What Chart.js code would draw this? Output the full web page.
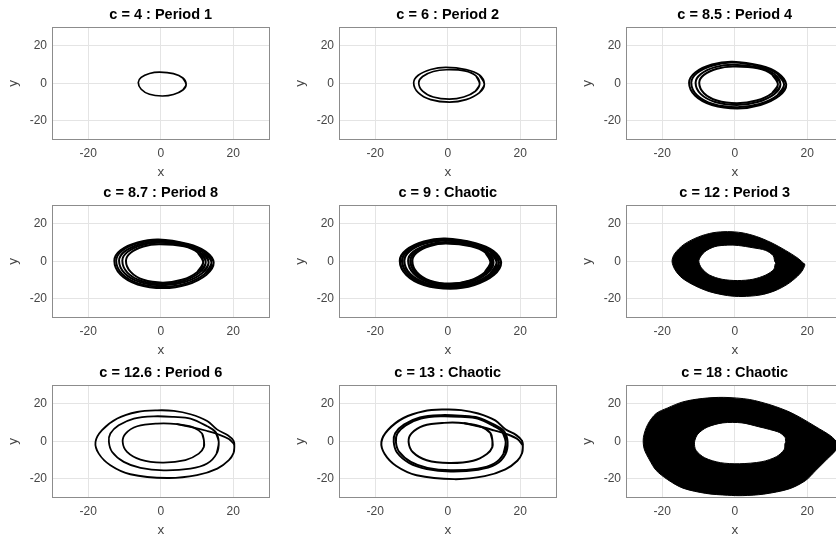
<!DOCTYPE html>
<html><head><meta charset="utf-8">
<script src="https://cdn.jsdelivr.net/npm/chart.js@4.4.1/dist/chart.umd.min.js"></script>
<style>
html,body{margin:0;padding:0;background:#fff;overflow:hidden;width:836px;height:540px;position:relative;}
canvas{position:absolute;}
</style></head><body>
<script>
// ---------------- data ----------------
const titles = ['c = 4 : Period 1','c = 6 : Period 2','c = 8.5 : Period 4',
                'c = 8.7 : Period 8','c = 9 : Chaotic','c = 12 : Period 3',
                'c = 12.6 : Period 6','c = 13 : Chaotic','c = 18 : Chaotic'];
const xTicks = [-20, 0, 20];
const yTicks = [-20, 0, 20];
const xRange = [-30, 30];
const yRange = [-30, 30];

// c = 4
const c4Loop = [[7,-0.6],[6.1,2.8],[3.5,5.1],[-0.3,5.9],[-3.1,5.2],[-5.4,3.1],[-6.2,0.4],[-5.4,-3.2],[-3.1,-5.9],[0.4,-6.8],[3.5,-6],[6.1,-3.6]];
// c = 6
const c6Outer = [[10.1,-0.5],[8.75,4.4],[5.05,7.3],[-0.5,8.5],[-4.7,7.36],[-8.14,4.25],[-9.4,0.3],[-8.14,-5.05],[-4.7,-8.75],[0.5,-10.1],[5.05,-8.75],[8.75,-5.05]];
const c6Inner = [[8.8,-0.4],[7.8,3.9],[4.7,6.6],[-0.4,7.2],[-4,6.24],[-6.93,3.6],[-8,0.3],[-6.93,-4.25],[-4,-7.36],[0.44,-8.5],[4.4,-7.36],[7.62,-4.25]];
// c = 8.5
const c85A = [[14.2,-0.7],[12,5.3],[7.2,9.3],[-0.6,11.5],[-6.3,10],[-10.9,5.75],[-12.6,0.3],[-10.9,-6.7],[-6.3,-11.6],[0.7,-13.4],[7.1,-11.6],[12.3,-6.7]];
const c85B = [[13.6,-0.6],[11.7,5.1],[7,8.9],[-0.6,11],[-6,9.5],[-10.4,5.5],[-12,0.3],[-10.4,-6.4],[-6,-11.1],[0.7,-12.8],[6.8,-11.1],[11.8,-6.4]];
const c85C = [[12.6,-0.6],[10.9,4.9],[6.6,8.4],[-0.5,9.9],[-5.4,8.6],[-9.35,4.95],[-10.8,0.3],[-9.35,-5.8],[-5.4,-10],[0.6,-11.6],[6.3,-10],[10.9,-5.8]];
const c85D = [[11.9,-0.5],[10.3,4.7],[6.3,8],[-0.5,8.9],[-4.9,7.7],[-8.5,4.45],[-9.8,0.3],[-8.5,-5.3],[-4.9,-9.2],[0.6,-10.6],[5.95,-9.2],[10.3,-5.3]];
// c = 8.7
const c87A = [[14.6,-0.7],[12.4,5.2],[7.5,9.2],[-0.6,11.6],[-6.4,10],[-11.1,5.8],[-12.8,0.3],[-11.1,-7.15],[-6.4,-12.4],[0.7,-14.3],[7.3,-12.4],[12.6,-7.15]];
const c87B = [[14,-0.7],[12,5],[7.3,8.9],[-0.6,11.2],[-6.15,9.7],[-10.65,5.6],[-12.3,0.3],[-10.65,-6.8],[-6.15,-11.8],[0.7,-13.6],[7,-11.8],[12.1,-6.8]];
const c87C = [[13.2,-0.6],[11.4,4.9],[7,8.6],[-0.6,10.5],[-5.75,9.1],[-9.95,5.25],[-11.5,0.3],[-9.95,-6.4],[-5.75,-11.1],[0.7,-12.8],[6.6,-11.1],[11.4,-6.4]];
const c87D = [[12.4,-0.6],[10.8,4.8],[6.7,8.3],[-0.5,9.8],[-5.3,8.5],[-9.2,4.9],[-10.6,0.3],[-9.2,-6.05],[-5.3,-10.5],[0.6,-12.1],[6.2,-10.5],[10.7,-6.05]];
const c87E = [[11.7,-0.6],[10.2,4.7],[6.4,8],[-0.5,9.1],[-4.8,7.9],[-8.3,4.55],[-9.6,0.3],[-8.3,-5.7],[-4.8,-9.9],[0.6,-11.4],[5.85,-9.9],[10.1,-5.7]];
// c = 9
const c9A = [[14.7,-0.7],[12.6,5.4],[7.7,9.6],[-0.7,12.1],[-6.6,10.5],[-11.4,6.05],[-13.2,0.3],[-11.4,-7.3],[-6.6,-12.6],[0.7,-14.6],[7.35,-12.6],[12.7,-7.3]];
const c9B = [[14.1,-0.7],[12.2,5.3],[7.4,9.3],[-0.6,11.6],[-6.3,10],[-10.9,5.8],[-12.6,0.3],[-10.9,-7],[-6.3,-12.1],[0.7,-14],[7.05,-12.1],[12.2,-7]];
const c9C = [[13.5,-0.7],[11.7,5.1],[7.1,9],[-0.6,11.1],[-6,9.6],[-10.4,5.55],[-12,0.3],[-10.4,-6.7],[-6,-11.6],[0.7,-13.4],[6.75,-11.6],[11.7,-6.7]];
const c9D = [[12.6,-0.6],[11,4.9],[6.8,8.5],[-0.5,10.2],[-5.45,8.8],[-9.45,5.1],[-10.9,0.3],[-9.45,-6.35],[-5.45,-11],[0.6,-12.7],[6.3,-11],[10.9,-6.35]];
const c9E = [[12.2,-0.6],[10.7,4.8],[6.6,8.3],[-0.5,9.8],[-5.15,8.5],[-8.9,4.9],[-10.3,0.3],[-8.9,-6.15],[-5.15,-10.65],[0.6,-12.3],[6.1,-10.65],[10.6,-6.15]];
const c9F = [[11.8,-0.6],[10.4,4.7],[6.4,8.1],[-0.5,9.5],[-4.9,8.2],[-8.5,4.75],[-9.8,0.3],[-8.5,-6],[-4.9,-10.4],[0.6,-12],[5.9,-10.4],[10.2,-6]];
// c = 12 (dense band: outer edge counter-clockwise, hole edge clockwise)
const c12Outer = [[19.2,-1.5],[17.5,1.5],[14,5.8],[10,10],[6,13.2],[2,15.2],[-2,15.8],[-6,15.2],[-10,13],[-14,9],[-16.6,4],[-17.3,0],[-16.5,-4.5],[-14.5,-9],[-11,-13],[-7,-16.2],[-2,-18.3],[2,-18.8],[7,-18],[11,-15.8],[14.5,-12.3],[17.3,-8],[18.8,-4.5]];
const c12Hole = [[11.4,-1],[10.8,-4.3],[8.6,-7.3],[5,-9.6],[0.8,-10.3],[-3.5,-9.6],[-7,-7.3],[-9.2,-3.5],[-9.9,0.5],[-8.3,5],[-5.5,7.8],[-2,8.6],[1,8.4],[5,7.2],[8.5,5.8],[10.6,3]];
// c = 12.6
const c126Outer = [[20.3,-3],[20.1,0.2],[18.5,3.2],[15.6,6.2],[12.8,10.8],[8.2,14.4],[3.6,16.2],[-1,16.5],[-6.5,15.6],[-12,12.1],[-16.2,5.9],[-18,-0.4],[-17.1,-6.6],[-13.9,-12.8],[-8.4,-17.6],[1.8,-19.6],[10,-18.1],[15.6,-14.6],[18.8,-10.1],[20.1,-6.2]];
const c126Middle = [[16,-0.4],[15.1,5.0],[12.8,8.0],[8.2,12.1],[3.6,13.0],[-1.9,13.3],[-7.4,12.1],[-11.6,8.5],[-13.9,4.1],[-14.3,-0.4],[-13.4,-5.7],[-10.2,-11],[-5.6,-14.2],[0.8,-15.5],[8.2,-14.6],[12.8,-11.9],[15.4,-6.6]];
const c126Inner = [[11.9,0.5],[11.4,4.1],[9.1,7.3],[4.5,9.1],[-1,9.4],[-6.5,8],[-9.7,4.1],[-10.5,-0.4],[-9.3,-5.7],[-5.6,-9.8],[0.4,-11.4],[6.8,-10.1],[10.5,-6.6],[11.9,-3]];
const c126Fold = [[4.5,9.1],[9.1,7.3],[12.6,5.6],[16,3.6],[18.8,1.2],[20.2,-1.5]];
// c = 13
const c13Outer = [[20.7,-3],[20.5,0.2],[18.9,3.3],[15.9,6.4],[13.1,11.1],[8.4,14.8],[3.7,16.6],[-1,16.9],[-6.6,16],[-12.2,12.4],[-16.5,6],[-18.3,-0.4],[-17.4,-6.8],[-14.2,-13.2],[-8.6,-18.1],[1.8,-20.2],[10.2,-18.6],[15.9,-15],[19.2,-10.4],[20.5,-6.4]];
const c13MiddleA = [[16,-0.4],[15.1,5.0],[12.8,8.0],[8.2,12.1],[3.6,13.0],[-1.9,13.3],[-7.4,12.1],[-11.6,8.5],[-13.9,4.1],[-14.3,-0.4],[-13.4,-5.7],[-10.2,-11],[-5.6,-14.2],[0.8,-15.5],[8.2,-14.6],[12.8,-11.9],[15.4,-6.6]];
const c13MiddleB = [[16.5,-0.4],[15.6,5.2],[13.2,8.4],[8.4,12.6],[3.6,13.6],[-1.9,13.9],[-7.7,12.7],[-12.1,8.9],[-14.5,4.3],[-14.9,-0.4],[-14,-6],[-10.7,-11.5],[-5.8,-14.8],[0.8,-16.1],[8.4,-15.2],[13.2,-12.4],[15.9,-6.9]];
const c13Inner = [[12.3,0.5],[11.8,4.3],[9.4,7.6],[4.6,9.6],[-1,9.8],[-6.7,8.3],[-10,4.2],[-10.8,-0.4],[-9.6,-5.9],[-5.8,-10.1],[0.4,-11.6],[7,-10.4],[10.8,-6.8],[12.3,-3.1]];
const c13Fold = [[4.6,9.6],[9.4,7.6],[12.8,5.8],[16.3,3.8],[19.2,1.2],[20.6,-1.8]];
// c = 18 (dense band)
const c18Outer = [[28.6,-1.2],[26.5,2.8],[22.4,7.7],[18.5,12.2],[15,15.7],[10,19.3],[4,22.3],[-3,23.4],[-9,22.8],[-14.3,21],[-18.5,17.8],[-21.7,14.8],[-24,9],[-25.2,2],[-25,-4],[-23.5,-10],[-21.7,-15.5],[-18.5,-20.5],[-14.3,-25],[-8,-27.8],[-2,-28.8],[2.2,-29],[8,-28.2],[15,-25.4],[19.5,-21],[22.4,-15.5],[25.5,-9.5],[27.8,-5]];
const c18Hole = [[14.2,-0.4],[13.6,-4.5],[11.5,-8.2],[7.5,-10.9],[1.3,-12],[-4,-11.4],[-8.3,-8.8],[-10.7,-4.8],[-11.1,-0.5],[-10.2,3.8],[-7.6,7.5],[-3.3,9.8],[2,9.8],[6.5,7.8],[9.6,6.3],[12.4,4.6],[13.9,2]];
const c18GapLeft = [[-10.6,6.8],[-12,3],[-12.5,-1],[-12.1,-5],[-11,-8.2]];
const c18GapRight = [[14.7,4.8],[15.3,1.5],[15.3,-1.8],[14.8,-4.6]];

// ---------------- drawing ----------------
const FONT = "'Liberation Sans', Arial, Helvetica, sans-serif";
const colLefts = [52, 339, 626];
const rowTops = [27, 205, 385];
const BOX_W = 217.5, BOX_H = 112.5;
const CV_W = 290, CV_H = 185, LEFT_M = 52, TOP_M = 27;

const toXY = arr => arr.map(p => ({x: p[0], y: p[1]}));
function loopDs(pts, w, t) {
  const n = pts.length;
  const path = [pts[n - 1], ...pts, pts[0], pts[1]];
  return {data: toXY(path), borderColor: '#000', borderWidth: w, fill: false, tension: t || 0.35};
}
function openDs(pts, w, color) {
  return {data: toXY(pts), borderColor: color || '#000', borderWidth: w, fill: false, tension: 0.35};
}
function ringDs(outer, hole) {
  const path = [...outer, outer[0], ...hole, hole[0], outer[0]];
  return {data: toXY(path), borderColor: '#000', borderWidth: 1, backgroundColor: '#000', fill: 'shape', tension: 0.3};
}

const boxPlugin = {
  id: 'axbox',
  afterDraw(chart) {
    const {ctx, chartArea: a} = chart;
    ctx.save();
    ctx.strokeStyle = '#8c8c8c';
    ctx.lineWidth = 1;
    const l = Math.round(a.left) + 0.5, t = Math.round(a.top) + 0.5;
    const r = Math.round(a.right) - 0.5, b = Math.round(a.bottom) - 0.5;
    ctx.strokeRect(l, t, r - l, b - t);
    ctx.restore();
  }
};

function makeChart(idx, datasets) {
  const col = idx % 3, row = Math.floor(idx / 3);
  const cv = document.createElement('canvas');
  cv.width = CV_W; cv.height = CV_H;
  cv.style.width = CV_W + 'px'; cv.style.height = CV_H + 'px';
  cv.style.left = (colLefts[col] - LEFT_M) + 'px';
  cv.style.top = (rowTops[row] - TOP_M) + 'px';
  document.body.appendChild(cv);
  const tickFont = {family: FONT, size: 12};
  const labFont = {family: FONT, size: 13.5, lineHeight: 1.2};
  new Chart(cv, {
    type: 'line',
    data: {datasets},
    options: {
      responsive: false, animation: false, devicePixelRatio: 1,
      events: [],
      layout: {padding: {left: 0, top: 0, right: CV_W - LEFT_M - BOX_W, bottom: 0}},
      elements: {point: {radius: 0, hoverRadius: 0}, line: {borderCapStyle: 'round', borderJoinStyle: 'round'}},
      plugins: {
        legend: {display: false}, tooltip: {enabled: false},
        title: {display: true, text: titles[idx], fullSize: false, color: '#000',
                font: {family: FONT, size: 14.5, weight: 'bold', lineHeight: 1.2},
                padding: {top: 6.3, bottom: TOP_M - 6.3 - 17.4}}
      },
      scales: {
        x: {type: 'linear', min: xRange[0], max: xRange[1],
            afterBuildTicks: s => { s.ticks = xTicks.map(v => ({value: v})); },
            afterFit: s => { s.height = CV_H - TOP_M - BOX_H; },
            grid: {color: '#e4e4e4', drawTicks: false, lineWidth: 1},
            border: {display: false},
            ticks: {padding: 7, color: '#454545', font: tickFont, maxRotation: 0},
            title: {display: true, text: 'x', color: '#454545', font: labFont, padding: {top: 0, bottom: 5}}},
        y: {type: 'linear', min: yRange[0], max: yRange[1],
            afterBuildTicks: s => { s.ticks = yTicks.map(v => ({value: v})); },
            afterFit: s => { s.width = LEFT_M; },
            grid: {color: '#e4e4e4', drawTicks: false, lineWidth: 1},
            border: {display: false},
            ticks: {padding: 5, color: '#454545', font: tickFont},
            title: {display: true, text: 'y', color: '#454545', font: labFont, padding: {top: 4.7, bottom: 0}}}
      }
    },
    plugins: [boxPlugin]
  });
}

makeChart(0, [loopDs(c4Loop, 1.7)]);
makeChart(1, [loopDs(c6Outer, 1.7), loopDs(c6Inner, 1.7)]);
makeChart(2, [c85A, c85B, c85C, c85D].map(l => loopDs(l, 2)));
makeChart(3, [c87A, c87B, c87C, c87D, c87E].map(l => loopDs(l, 2)));
makeChart(4, [c9A, c9B, c9C, c9D, c9E, c9F].map(l => loopDs(l, 2.3)));
makeChart(5, [ringDs(c12Outer, c12Hole)]);
makeChart(6, [loopDs(c126Outer, 1.8), loopDs(c126Middle, 1.8), loopDs(c126Inner, 1.8), openDs(c126Fold, 1.8)]);
makeChart(7, [loopDs(c13Outer, 2), loopDs(c13MiddleA, 2), loopDs(c13MiddleB, 2), loopDs(c13Inner, 2), openDs(c13Fold, 2)]);
makeChart(8, [ringDs(c18Outer, c18Hole), openDs(c18GapLeft, 0.8, '#fff'), openDs(c18GapRight, 0.8, '#fff')]);
</script>
</body></html>
